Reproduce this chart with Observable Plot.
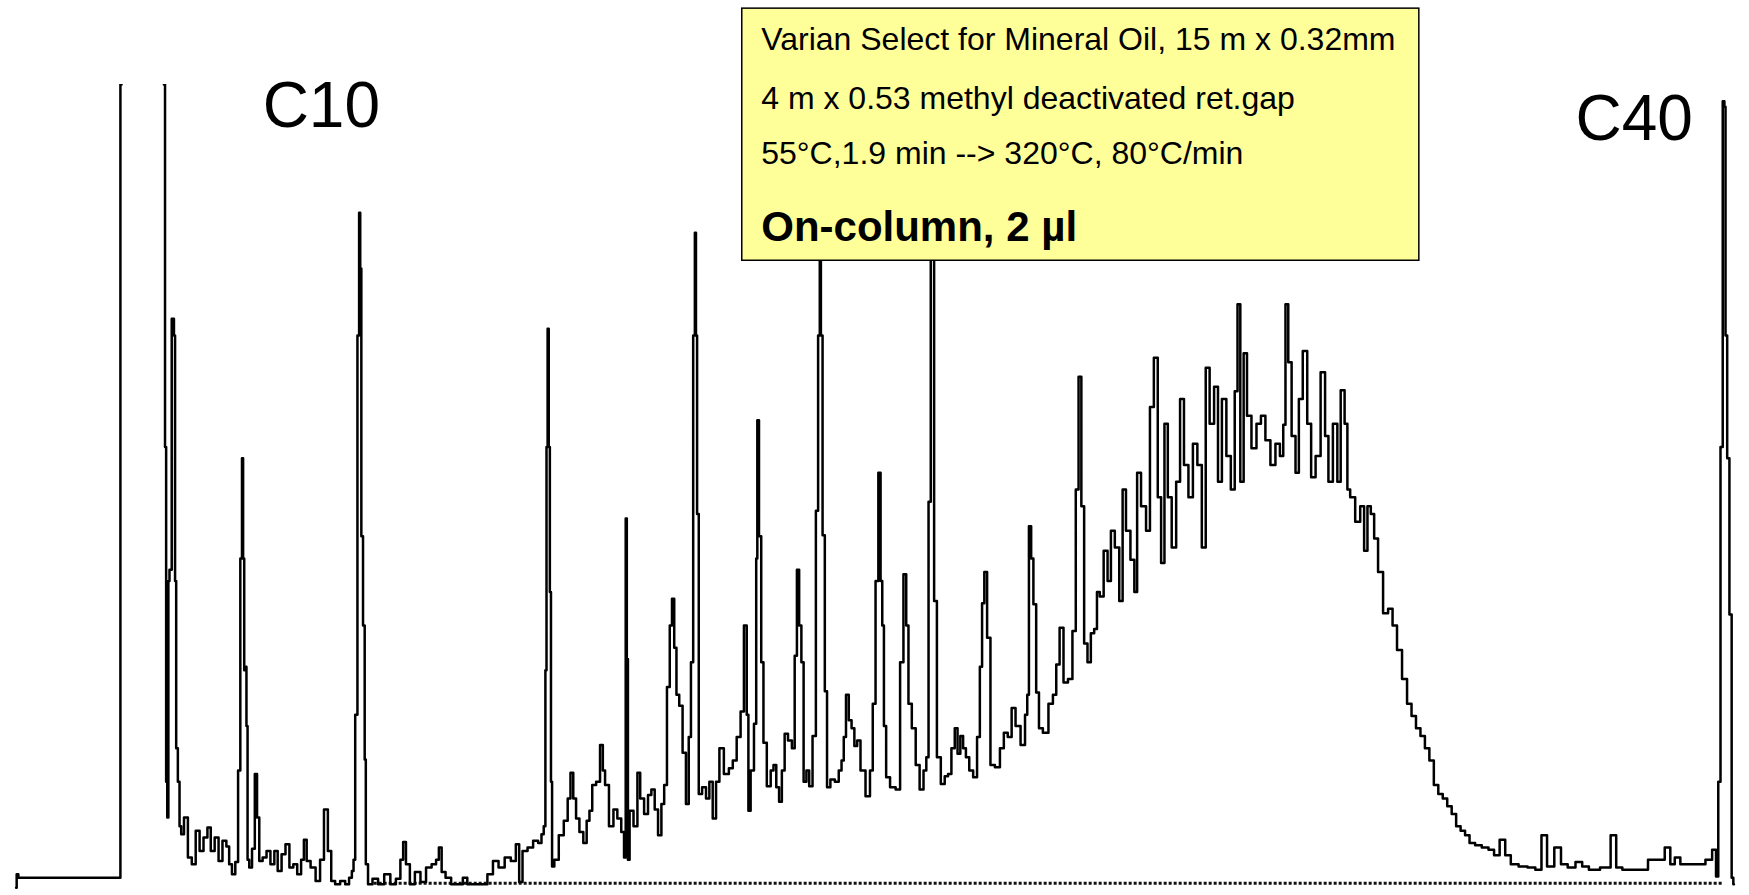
<!DOCTYPE html>
<html>
<head>
<meta charset="utf-8">
<script src="https://cdn.jsdelivr.net/npm/d3@7"></script>
<script src="https://cdn.jsdelivr.net/npm/@observablehq/plot@0.6"></script>
<style>
  html, body { margin: 0; padding: 0; background: #fff; }
  #chart svg { display: block; }
</style>
</head>
<body>
<div id="chart"></div>
<script>
// GC-FID trace of a mineral oil, on-column injection.
// Each pair is [retention time (min), detector signal (mV)].
// The solvent front runs off scale, so its top is clipped by the frame.
const solventFront = [
  [0.14,-9],[0.15,3],[0.17,0],[1.07,0],[1.08,711],[1.09,900],[1.46,900],[1.47,711],
  [1.48,386],[1.49,86],[1.50,54],[1.51,266],[1.52,276],[1.55,501],[1.56,486],[1.57,266],
  [1.58,116],[1.60,86],[1.61,46],[1.63,39],[1.66,54],[1.70,18],[1.73,12],[1.77,42],
  [1.80,24],[1.84,36],[1.87,45],[1.90,24],[1.94,36],[1.97,15],[2.01,33],[2.04,28],
  [2.06,12],[2.09,3],[2.12,14]
];

const lightEnds = [
  [2.14,96],[2.16,286],[2.17,376],[2.18,286],[2.19,186],[2.20,189],[2.21,136],[2.22,16],
  [2.24,9],[2.27,26],[2.29,93],[2.31,54],[2.33,15],[2.37,18],[2.40,24],[2.44,12],
  [2.47,24],[2.50,6],[2.54,21],[2.57,30],[2.61,9],[2.64,12],[2.68,3],[2.71,16],
  [2.73,34],[2.76,15],[2.80,9],[2.85,-3],[2.88,16],[2.92,61],[2.95,24],[2.98,-3],
  [3.02,-6],[3.07,-3],[3.11,-6],[3.14,0],[3.16,6],[3.17,16],[3.19,146],[3.21,486],
  [3.22,596],[3.23,546],[3.24,306],[3.26,226],[3.27,106],[3.28,12],[3.31,-6],[3.36,-1],
  [3.41,-6],[3.47,3],[3.52,-6],[3.57,-1],[3.60,16],[3.62,32],[3.65,12],[3.69,-6],
  [3.74,5],[3.79,-4],[3.84,9],[3.89,12],[3.92,16],[3.94,27],[3.97,5],[4.01,0],
  [4.07,-6],[4.12,-6],[4.17,0],[4.20,-6],[4.34,-6],[4.39,3],[4.44,15],[4.49,9],
  [4.55,18],[4.60,15],[4.64,30],[4.66,-4],[4.70,24],[4.75,27],[4.80,33],[4.84,31],
  [4.86,39]
];

const midRange = [
  [4.88,46],[4.89,186],[4.90,386],[4.91,492],[4.92,386],[4.93,256],[4.94,86],[4.95,10],
  [4.98,16],[5.03,38],[5.07,51],[5.10,71],[5.12,94],[5.15,71],[5.17,53],[5.21,41],
  [5.24,31],[5.27,51],[5.29,60],[5.32,83],[5.36,86],[5.39,119],[5.41,96],[5.43,83],
  [5.48,46],[5.51,61],[5.55,53],[5.58,41],[5.60,18],[5.61,322],[5.62,196],[5.63,16],
  [5.65,60],[5.70,46],[5.72,94],[5.75,71],[5.79,57],[5.82,74],[5.85,79],[5.88,61],
  [5.91,38],[5.94,66],[5.96,83],[5.99,171],[6.01,226],[6.03,250],[6.05,206],[6.07,164],
  [6.10,154],[6.13,112],[6.16,66],[6.18,126],[6.20,193],[6.22,486],[6.23,578],[6.24,486],
  [6.25,326],[6.27,75],[6.31,81],[6.34,71],[6.37,86],[6.40,53],[6.43,86],[6.46,116],
  [6.51,93],[6.55,98],[6.58,105],[6.62,126],[6.65,149],[6.68,226],[6.70,146],[6.71,60],
  [6.74,96],[6.77,138],[6.78,286],[6.79,410],[6.81,306],[6.83,193],[6.85,121],[6.89,82],
  [6.92,96],[6.94,101],[6.97,81],[6.99,68],[7.02,96],[7.04,129],[7.08,123],[7.11,116],
  [7.13,199],[7.15,276],[7.17,226],[7.19,193],[7.21,86],[7.24,96],[7.26,82],[7.30,127],
  [7.32,329],[7.34,486],[7.35,571],[7.36,486],[7.38,307],[7.40,167],[7.42,81],[7.46,88],
  [7.50,86],[7.53,96],[7.55,105],[7.57,126],[7.59,164],[7.62,141],[7.64,134],[7.67,118],
  [7.69,123],[7.73,96],[7.78,73],[7.81,96],[7.83,156],[7.86,266],[7.88,363],[7.90,266],
  [7.91,226],[7.93,136],[7.95,90],[8.00,81],[8.05,79],[8.08,193],[8.11,272],[8.13,226],
  [8.15,156],[8.19,134],[8.22,101],[8.26,79],[8.29,96],[8.31,108],[8.33,337],[8.35,571],
  [8.36,571],[8.38,248],[8.41,108],[8.45,84],[8.48,91],[8.51,93],[8.54,116],[8.57,134],
  [8.59,111],[8.62,127],[8.64,116],[8.67,108],[8.70,96],[8.74,90],[8.77,126],[8.79,189],
  [8.81,246],[8.83,274],[8.86,215],[8.89,101],[8.94,99],[8.98,116],[9.01,130],[9.05,126],
  [9.08,152],[9.12,136],[9.17,119],[9.20,146],[9.21,164]
];

const unresolvedHump = [
  [9.23,315],[9.25,286],[9.27,245],[9.30,166],[9.32,134],[9.37,130],[9.42,156],[9.45,164],
  [9.48,191],[9.51,224],[9.55,175],[9.59,178],[9.63,221],[9.65,348],[9.68,449],[9.70,333],
  [9.73,210],[9.76,193],[9.79,219],[9.82,223],[9.84,256],[9.87,252],[9.91,293],[9.94,266],
  [9.97,311],[10.01,296],[10.05,248],[10.07,348],[10.11,311],[10.15,285],[10.18,256],[10.20,363],
  [10.25,333],[10.29,311],[10.32,422],[10.36,466],[10.39,341],[10.42,282],[10.45,407],[10.48,341],
  [10.52,296],[10.56,355],[10.59,429],[10.63,370],[10.67,341],[10.71,389],[10.75,370],[10.79,296],
  [10.82,457],[10.86,407],[10.90,440],[10.93,355],[10.97,429],[11.01,378],[11.05,348],[11.08,436],
  [11.10,514],[11.13,355],[11.16,470],[11.19,414],[11.24,385],[11.28,407],[11.32,414],[11.36,392],
  [11.41,370],[11.45,389],[11.49,378],[11.51,406],[11.53,514],[11.56,462],[11.59,396],[11.63,363],
  [11.65,429],[11.70,472],[11.73,407],[11.77,359],[11.81,378],[11.86,453],[11.89,396],[11.92,355],
  [11.97,407],[12.00,355],[12.03,437],[12.07,407],[12.08,348],[12.12,341],[12.17,319],[12.21,333],
  [12.24,293],[12.27,333],[12.30,326],[12.33,304],[12.37,274]
];

const heavyTail = [
  [12.42,237],[12.46,241],[12.50,226],[12.54,204],[12.59,178],[12.63,156],[12.67,145],[12.71,134],
  [12.75,127],[12.79,116],[12.83,105],[12.87,83],[12.91,75],[12.95,71],[12.99,64],[13.03,57],
  [13.07,46],[13.11,42],[13.15,38],[13.19,31],[13.25,29],[13.31,27],[13.37,25],[13.41,20],
  [13.47,34],[13.51,20],[13.57,12],[13.65,10],[13.73,9],[13.79,7],[13.84,38],[13.89,10],
  [13.97,27],[14.01,12],[14.09,9],[14.15,14],[14.21,10],[14.27,7],[14.41,9],[14.46,38],
  [14.51,9],[14.57,7],[14.73,7],[14.81,16],[14.89,16],[14.95,27],[14.99,12],[15.03,18],
  [15.09,12],[15.25,12],[15.32,16],[15.37,25],[15.39,1],[15.41,86],[15.43,386],[15.45,696],
  [15.46,691],[15.47,486],[15.49,376],[15.51,236],[15.53,0],[15.54,-6]
];

// Column and method notes shown in the yellow box
const methodLines = [
  "Varian Select for Mineral Oil, 15 m x 0.32mm",
  "4 m x 0.53 methyl deactivated ret.gap",
  "55°C,1.9 min --> 320°C, 80°C/min"
];
const injectionLine = ["On-column, 2 µl"];

// n-alkane markers
const alkaneLabels = ["C10", "C40"];

const trace = [...solventFront, ...lightEnds, ...midRange, ...unresolvedHump, ...heavyTail]
  .map(([t, s]) => ({t, s}));

const font = "'Liberation Sans', Arial, Helvetica, sans-serif";

const chart = Plot.plot({
  width: 1749,
  height: 895,
  marginTop: 84,
  marginRight: 0,
  marginBottom: 0,
  marginLeft: 0,
  style: {background: "#fff", overflow: "visible"},
  x: {domain: [0, 15.68], axis: null},
  y: {domain: [-16, 711], axis: null},
  marks: [
    // dotted integration baseline under the trace
    Plot.ruleY([-5], {x1: 3.35, x2: 15.45, stroke: "#111", strokeWidth: 3, strokeDasharray: "3,2"}),
    // recorder trace, drawn as steps like the data system output
    Plot.line(trace, {x: "t", y: "s", curve: "step", stroke: "#000", strokeWidth: 2.5, clip: true}),
    // method box
    Plot.rect([0], {x1: 6.65, x2: 12.72, y1: 553, y2: 779, fill: "#ffff99", stroke: "#000", strokeWidth: 1.5}),
    Plot.text(methodLines, {
      x: 6.82, y: [742, 689, 640], text: d => d,
      textAnchor: "start", lineAnchor: "bottom",
      fontSize: 32, fontFamily: font, fill: "#000"
    }),
    Plot.text(injectionLine, {
      x: 6.82, y: [571], text: d => d,
      textAnchor: "start", lineAnchor: "bottom",
      fontSize: 42, fontWeight: "bold", fontFamily: font, fill: "#000"
    }),
    Plot.text(alkaneLabels, {
      x: [2.35, 14.12], y: [673, 661], text: d => d,
      textAnchor: "start", lineAnchor: "bottom",
      fontSize: 64, fontFamily: font, fill: "#000"
    })
  ]
});

document.getElementById("chart").appendChild(chart);
</script>
</body>
</html>
